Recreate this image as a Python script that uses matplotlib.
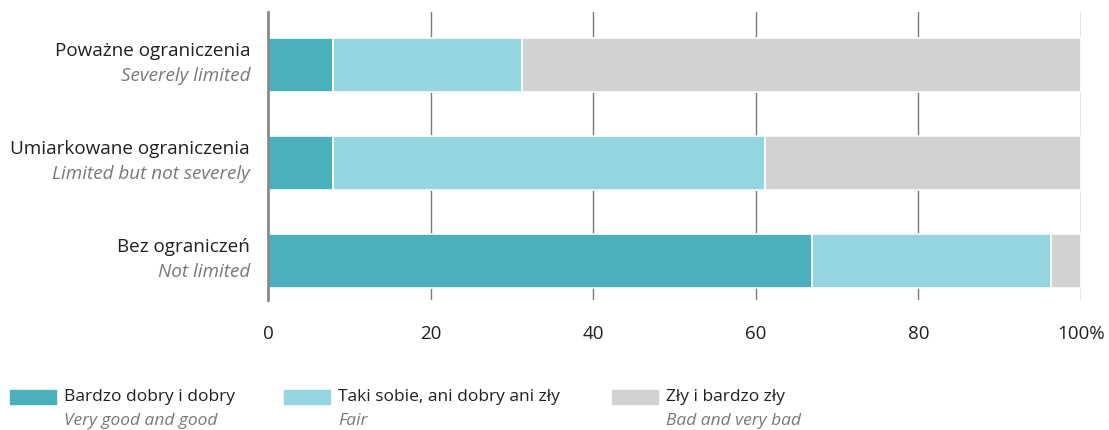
import matplotlib.pyplot as plt
import numpy as np

plt.rcParams['font.family'] = ['Open Sans', 'DejaVu Sans']

categories_pl = ["Bez ograniczeń", "Umiarkowane ograniczenia", "Poważne ograniczenia"]
categories_en = ["Not limited", "Limited but not severely", "Severely limited"]

very_good = [66.9, 8.0, 8.0]
fair = [29.4, 53.1, 23.2]
bad = [3.7, 38.9, 68.8]

series_pl = ["Bardzo dobry i dobry", "Taki sobie, ani dobry ani zły", "Zły i bardzo zły"]
series_en = ["Very good and good", "Fair", "Bad and very bad"]
colors = ["#4bb0bd", "#94d6df", "#d1d2d4"]

xticks = [0, 20, 40, 60, 80, 100]
xticklabels = ["0", "20", "40", "60", "80", "100%"]

fig = plt.figure(figsize=(11.09, 4.30), dpi=100)
ax = fig.add_axes([268/1109, 1-300/430, (1081-268)/1109, (300-12)/430])

y = np.arange(len(categories_pl))
left = np.zeros(len(y))
for vals, c in zip([very_good, fair, bad], colors):
    ax.barh(y, vals, left=left, height=0.55, color=c, edgecolor="white", linewidth=1.2, zorder=2)
    left += np.array(vals)

ax.set_xlim(0, 100)
ax.set_ylim(-0.4, 2.54)
ax.set_xticks(xticks)
ax.set_xticklabels(xticklabels, fontsize=13.5, color="#231f20")
ax.tick_params(axis="x", length=0, pad=18)
ax.set_yticks([])
for x in xticks[1:]:
    ax.axvline(x, color="#7a7a7a", linewidth=1, zorder=1)
for s in ["top", "right", "bottom"]:
    ax.spines[s].set_visible(False)
ax.spines["left"].set_color("#8a8a8a")
ax.spines["left"].set_linewidth(2)
ax.spines["left"].set_zorder(3)

for yi, pl, en in zip(y, categories_pl, categories_en):
    ax.text(-2.2, yi + 0.14, pl, ha="right", va="center", fontsize=13.6, color="#231f20")
    ax.text(-2.2, yi - 0.11, en, ha="right", va="center", fontsize=13.6, color="#77787b", style="italic")

# legend
leg_x = [10, 284, 612]
for lx, pl, en, c in zip(leg_x, series_pl, series_en, colors):
    fig.patches.append(plt.Rectangle((lx/1109, 1-404/430), 46/1109, 14/430,
                                     transform=fig.transFigure, color=c))
    fig.text((lx+54)/1109, 1-397/430, pl, ha="left", va="center", fontsize=12.5, color="#231f20")
    fig.text((lx+54)/1109, 1-421/430, en, ha="left", va="center", fontsize=12.5, color="#77787b", style="italic")

fig.savefig("out.png", dpi=100)
